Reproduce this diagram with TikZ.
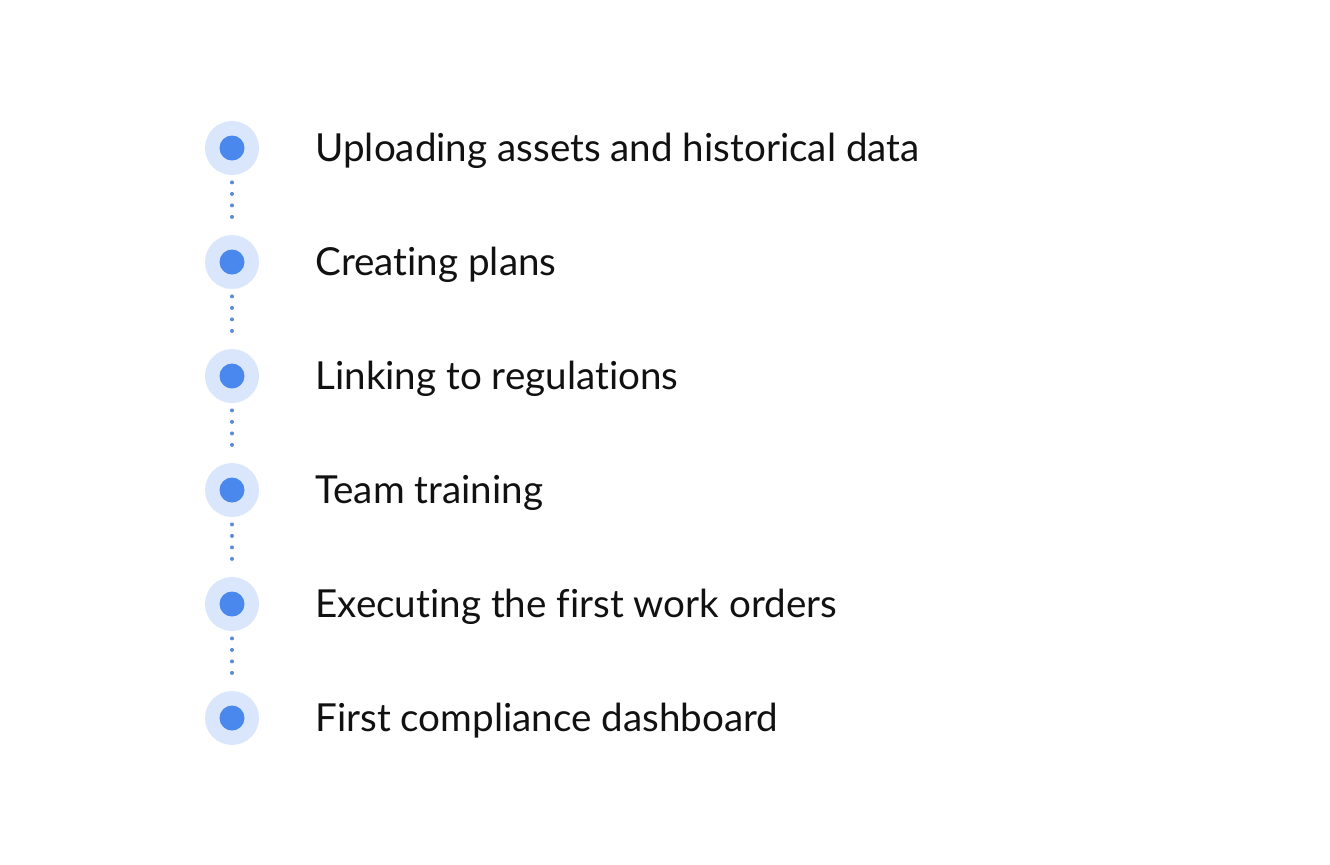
\documentclass[tikz,border=0pt]{standalone}
\usepackage{fontspec}
\setmainfont{Lato}[Ligatures=NoCommon]
\usepackage{tikz}

\definecolor{ringblue}{HTML}{DAE6FB}
\definecolor{dotblue}{HTML}{4A88EE}
\definecolor{lineblue}{HTML}{5A8BD5}
\definecolor{textblack}{HTML}{111111}

\tikzset{
  ring/.style={circle,fill=ringblue,minimum size=27pt,inner sep=0pt},
  core/.style={circle,fill=dotblue,minimum size=12.5pt,inner sep=0pt},
  dotline/.style={lineblue,line width=2pt,line cap=round,dash pattern=on 0pt off 5.75pt,shorten <=3.5pt,shorten >=3.5pt},
  steplabel/.style={anchor=base west,inner sep=0pt,text=textblack,font=\fontsize{19.3}{23}\selectfont}
}

\begin{document}
\begin{tikzpicture}[x=0.5pt,y=-0.5pt]
    \useasboundingbox (0,0) rectangle (1330,864);
    \foreach \i/\lab in {1/Uploading assets and historical data,2/Creating plans,3/Linking to regulations,4/Team training,5/Executing the first work orders,6/First compliance dashboard} {
        \node[ring] (s\i) at (232,34+114*\i) {};
        \node[core] (d\i) at (s\i) {};
        \node[steplabel] (t\i) at (315,47+114*\i) {\lab};
    }
    \foreach \i/\j in {1/2,2/3,3/4,4/5,5/6} \draw[dotline] (s\i.south) -- (s\j.north);
\end{tikzpicture}
\end{document}
